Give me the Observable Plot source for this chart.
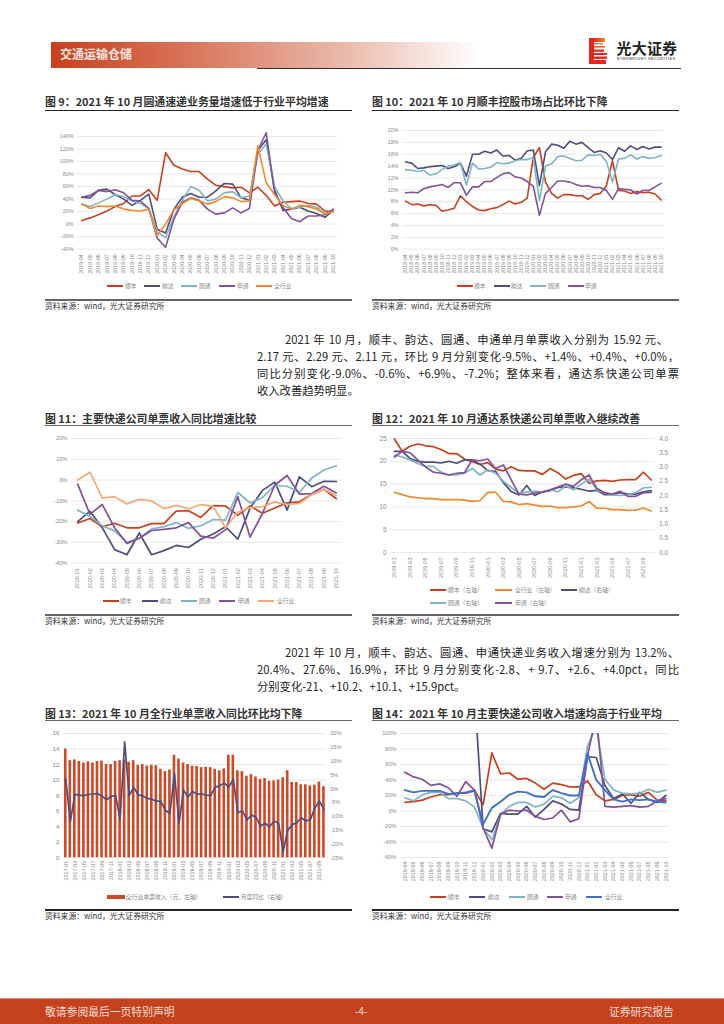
<!DOCTYPE html>
<html>
<head>
<meta charset="utf-8">
<script src="https://cdn.jsdelivr.net/npm/d3@7"></script>
<script src="https://cdn.jsdelivr.net/npm/@observablehq/plot@0.6"></script>
<style>
html,body{margin:0;padding:0;background:#fff;}
#page{position:relative;width:724px;height:1024px;overflow:hidden;font-family:"Noto Sans CJK SC","Noto Sans",sans-serif;color:#222;}
#page>*{position:absolute;}
.t{white-space:nowrap;transform:translateY(-50%);line-height:1;}
.ttl{font-weight:700;font-size:10.9px;color:#333;}
.src{font-size:7.8px;color:#333;}
.lg{font-size:5.8px;color:#888;}
.para{font-size:11.3px;color:#222;white-space:nowrap;line-height:1;text-align:justify;text-align-last:justify;transform:translateY(-50%);}
svg{overflow:visible;}
</style>
</head>
<body>
<div id="page"></div>
<script>
// ---------- category labels
function months(sy, sm, n){const o=[];let y=sy,m=sm;for(let i=0;i<n;i++){o.push(y+"-"+String(m).padStart(2,"0"));m++;if(m>12){m=1;y++;}}return o;}
const cats9 = months(2019,4,31);
const cats10 = months(2018,4,43);
const cats11 = months(2020,1,22);
const cats12 = months(2019,1,34);
const cats13 = months(2017,1,58);
const cats14 = months(2019,4,31);

// ---------- 图 9
const sf9 = [6,10,15,21,28,33,45,45,55,38,114,94,88,84,84,72,62,60,58,59,50,59,46,29,35,36,37,33,32,21,20];
const yd9 = [43,42,54,56,47,40,30,38,48,-8,-14,24,43,49,43,43,53,65,64,42,38,118,135,55,22,24,27,21,17,11,22];
const yt9 = [32,28,34,40,47,44,37,33,25,-12,-22,12,38,60,54,37,40,50,52,42,45,112,128,60,37,25,27,30,27,17,20];
const st9 = [43,46,54,52,55,50,38,37,25,-22,-37,8,35,42,38,24,16,18,26,18,25,118,146,50,27,9,4,13,13,15,24];
const all9 = [32,25,29,28,29,24,22,21,24,-18,0,23,33,41,37,32,36,44,42,36,37,125,66,47,30,24,30,28,24,16,21];

// ---------- 图 10
const sf10 = [8.1,7.5,7.6,7.3,7.5,7.4,6.4,6.6,6.9,9.0,8.0,7.2,6.6,6.5,6.8,7.0,7.5,8.1,7.6,7.9,8.6,15.5,17.1,11.3,9.4,8.6,9.2,9.2,9.0,9.0,8.4,9.2,9.4,10.7,14.9,9.9,9.8,9.4,9.7,9.5,9.6,9.3,8.3];
const yd10 = [14.7,14.5,13.6,13.7,13.9,14.0,14.1,13.6,13.9,14.5,12.3,16.0,16.0,16.5,16.2,16.7,15.7,15.8,15.0,15.3,16.6,16.7,10.7,16.4,17.7,17.5,17.0,18.2,17.7,18.0,17.1,16.3,16.6,16.2,15.1,17.1,16.5,17.4,16.8,17.3,16.9,17.2,17.2];
const yt10 = [13.4,13.3,13.1,13.3,12.5,12.7,13.4,14.0,14.2,14.6,10.8,14.5,13.5,13.6,13.8,14.6,14.4,14.5,14.9,15.1,15.1,15.4,8.2,14.0,14.4,15.6,15.7,15.3,14.9,15.0,15.9,15.8,16.0,14.8,11.3,15.2,15.3,15.9,15.2,15.6,15.3,15.4,15.8];
const st10 = [9.5,9.6,9.5,10.2,10.5,10.7,10.9,10.4,11.2,11.2,9.1,10.5,10.5,11.4,11.4,12.1,12.7,12.9,12.2,12.0,11.4,10.6,5.7,9.4,10.4,11.5,11.5,11.3,10.9,10.6,10.7,10.4,10.4,9.9,8.4,10.2,10.1,10.0,9.3,9.9,9.9,10.5,11.1];

// ---------- 图 11
const sf11 = [-20.7,-18.5,-22.5,-20.8,-23,-23,-21,-21,-15,-14.8,-18,-12.3,-12.5,-17,-12.5,-16,-13.5,-11,-10.5,-7,-4.5,-9];
const yd11 = [-20,-15,-23,-33.5,-36,-25.5,-36,-34,-31.5,-32.5,-28.5,-26,-22.5,-28.5,-13.5,-5,-1,-14.5,1.5,-3.2,-0.6,-0.7];
const yt11 = [-14.5,-17.5,-22,-24.5,-30,-28,-23.5,-22.5,-20.5,-23.3,-22,-19,-19.3,-6,-11,-8.5,-2.5,-3,-6,1,4.8,6.9];
const st11 = [-2,-16.5,-11.8,-23,-30.5,-28,-24.3,-23.8,-23,-20.5,-27,-28,-24,-8,-27.5,-16,-2.5,2.2,-6.8,-6.5,-3,-6.2];
const all11 = [0,3.8,-8.7,-8,-11.5,-9.3,-10,-13.8,-12.2,-13.8,-11.8,-12.6,-23,-15.5,-13.3,-12.8,-10.5,-11.8,-11.3,-7,-4.5,-7.5];

// ---------- 图 12
const sf12 = [24.9,22.2,23.3,23.8,23.4,23.2,22.6,21.7,21.7,20.5,19.9,19.3,19.7,18.3,17.9,18.8,18.0,17.9,17.9,17.1,18.4,17.5,16.1,16.9,17.3,15.2,15.7,15.8,15.6,15.9,16.0,16.0,17.6,15.9];
const all12 = [13.2,12.7,12.2,12.0,11.8,11.8,11.6,11.6,11.6,11.5,11.2,11.4,13.2,13.2,11.2,11.1,10.5,10.7,10.4,10.1,10.2,9.85,9.85,10.0,10.2,11.2,9.7,9.7,9.4,9.4,9.25,9.3,9.75,9.1];
const yd12 = [3.55,3.55,3.3,3.2,3.17,3.17,3.14,3.2,3.13,3.25,3.25,3.1,2.87,2.85,2.45,2.14,2.02,2.35,2.0,2.12,2.17,2.28,2.3,2.27,2.22,2.15,2.18,2.03,2.03,2.1,2.05,2.05,2.13,2.17];
const yt12 = [3.42,3.35,3.25,3.12,3.02,3.02,2.82,2.72,2.72,2.78,2.95,2.72,2.9,2.78,2.5,2.28,2.08,2.12,2.15,2.12,2.2,2.13,2.33,2.2,2.4,2.58,2.2,2.1,2.02,2.0,2.03,2.1,2.27,2.29];
const st12 = [3.35,3.55,3.5,3.25,3.0,2.82,2.78,2.72,2.78,2.8,3.25,3.22,3.28,2.95,3.07,2.55,2.05,2.02,2.08,2.12,2.2,2.3,2.4,2.32,2.55,2.72,2.25,2.1,2.05,2.15,1.97,1.97,2.1,2.11];

// ---------- 图 13
const rev13 = [14.0,12.5,12.6,12.4,12.2,12.35,12.2,12.4,12.45,12.0,12.0,12.4,12.5,12.6,12.3,12.5,11.9,12.0,11.8,11.9,11.85,11.4,11.1,11.3,13.2,12.7,12.2,12.0,11.8,11.75,11.6,11.65,11.6,11.4,11.2,11.45,13.2,13.2,11.2,11.1,10.5,10.7,10.4,10.1,10.2,9.85,9.9,10.0,10.3,11.2,9.7,9.7,9.4,9.4,9.25,9.35,9.75,9.15];
const yoy13 = [3.5,-12,-2,-2.3,-2.5,-2,-2,-1.7,-2.7,-4,-2.8,-2.4,-11,17,-2.5,0.5,-2.2,-2.6,-3.5,-3.8,-4.5,-4.6,-7.8,-9,5.5,-12.5,-0.5,-3,-1,-2,-1.8,-2.3,-2.4,0.5,1.2,2,0.6,3.5,-8.7,-8,-11.3,-9.5,-10.3,-13.5,-12.5,-13.8,-11.7,-12.5,-22.8,-15,-13,-12.3,-10.5,-11.7,-11.2,-7,-4.5,-7.5];

// ---------- 图 14
const sf14 = [11,12,14,18,21,21,23,24,27,8,75,48,49,41,42,36,28,36,34,31,31,39,21,13,15,20,21,19,24,14,13];
const yd14 = [null,null,null,null,null,null,null,null,155,-23,-27,-3,-4,-4,6,-8,2,13,9,2,1,70,69,33,16,22,10,24,15,11,20];
const yt14 = [17,13,21,24,24,16,16,13,5,-22,-37,-5,6,11,11,5,9,19,17,10,17,84,108,41,27,23,22,23,28,24,27];
const st14 = [50,44,41,33,35,30,19,38,27,-22,-48,-4,1,0,1,-7,-11,-9,1,-14,-10,71,125,6,5,6,7,5,6,13,16];
const all14 = [27,24,26,26,26,22,23,23,26,-17,4,12,21,25,24,19,18,27,23,20,20,74,40,27,15,12,15,14,15,12,11];

// ---------- ticks
const pct = d => d + "%";
const ticks9 = [-40,-20,0,20,40,60,80,100,120,140];
const ticks10 = [0,2,4,6,8,10,12,14,16,18,20];
const ticks11 = [-40,-30,-20,-10,0,10,20];
const ticks12L = [0,5,10,15,20,25];
const ticks12R = [0,0.5,1,1.5,2,2.5,3,3.5,4];
const ticks13L = [0,2,4,6,8,10,12,14,16];
const ticks13R = [-25,-20,-15,-10,-5,0,5,10,15,20];
const ticks14 = [-60,-40,-20,0,20,40,60,80,100];

// ---------- colours
const RED="#c8401f", NAVY="#4e4e7e", TEAL="#7fb3c6", PURPLE="#83519b", ORANGE="#ef8a2e", PEACH="#f4ab7c", BLUE="#3d6fcb";

const page = document.getElementById("page");
function el(tag, cls, css, txt){
  const e=document.createElement(tag);
  if(cls) e.className=cls;
  Object.assign(e.style,css||{});
  if(txt!=null) e.textContent=txt;
  page.appendChild(e);
  return e;
}
function text(x,y,s,cls,css){return el("div","t "+(cls||""),Object.assign({left:x+"px",top:y+"px"},css||{}),s);}
function rule(x0,x1,y,h,c){return el("div","",{left:x0+"px",top:(y-h/2)+"px",width:(x1-x0)+"px",height:h+"px",background:c});}

const M = {l:34,r:34,t:6,b:34};
function chart(o){
  const {x0,x1,yTop,yBot,cats,domain,gridTicks,series=[],bars,tickEvery=1,tickOffset=0,
         side="left",axisTicks,fmt,fs=5.4,xfs=5.3,xPad=5,barPad=0.42,clip=false,drawX=true} = o;
  const rows = cats.map((c,i)=>({c,i}));
  const marks=[];
  if(gridTicks) marks.push(Plot.gridY(gridTicks,{stroke:"#e9e9e9",strokeOpacity:1,strokeWidth:1}));
  if(bars) marks.push(Plot.barY(rows,{x:"c",y:d=>bars.values[d.i],fill:bars.color}));
  if(drawX) marks.push(Plot.axisX({
    ticks:cats.filter((c,i)=>i%tickEvery===tickOffset),tickSize:0,tickRotate:-90,tickPadding:xPad,
    fontSize:xfs,fill:"#8a8a8a",label:null,anchor:"bottom",fontFamily:"Liberation Sans"}));
  else marks.push(Plot.axisX({ticks:[],tickSize:0,label:null}));
  marks.push(Plot.axisY({ticks:axisTicks,tickFormat:fmt||(d=>d),tickSize:0,tickPadding:o.yPad??4,
    fontSize:fs,fill:"#8a8a8a",label:null,anchor:side,fontFamily:"Liberation Sans"}));
  for(const s of series){
    marks.push(Plot.line(rows,{x:"c",y:d=>s.values[d.i],stroke:s.color,strokeWidth:s.w||1.6,
      curve:"linear",clip,strokeLinejoin:"round",strokeLinecap:"round"}));
  }
  const plot = Plot.plot({
    width:x1-x0+M.l+M.r, height:yBot-yTop+M.t+M.b,
    marginLeft:M.l, marginRight:M.r, marginTop:M.t, marginBottom:M.b,
    style:{background:"transparent",overflow:"visible",fontFamily:"Liberation Sans"},
    x:{type:"band",domain:cats,paddingInner:barPad,paddingOuter:barPad/2,round:false,label:null},
    y:{type:"linear",domain,range:[yBot-yTop+M.t,M.t],label:null},
    marks
  });
  Object.assign(plot.style,{position:"absolute",left:(x0-M.l)+"px",top:(yTop-M.t)+"px"});
  page.appendChild(plot);
}
function legendLine(x,y,len,color,label,tx){
  rule(x,x+len,y,1.7,color);
  text(tx,y,label,"lg");
}

// ---------- header
el("div","",{left:"51px",top:"42px",width:"429px",height:"26px",background:"linear-gradient(90deg,#c8401f 0%,#d97a60 35%,#ebbdaf 70%,#ffffff 100%)"});
text(60,54,"交通运输仓储","",{fontSize:"12px",fontWeight:700,color:"#fbe8e0"});
rule(257,681,68.5,1.2,"#333");
const logo=el("div","",{left:"589px",top:"38px",width:"18px",height:"26px"});
logo.innerHTML=`<svg width="18" height="26" viewBox="0 0 18 26" style="display:block">
<defs><linearGradient id="lg1" x1="0" x2="1" y1="0" y2="0"><stop offset="0" stop-color="#e5281f"/><stop offset="1" stop-color="#f28a2c"/></linearGradient></defs>
<rect x="0" y="0" width="5" height="26" fill="#e5281f"/>
<rect x="5" y="0" width="11" height="4" fill="url(#lg1)"/>
<rect x="5" y="5" width="9" height="1.4" fill="#f07a3a"/><rect x="5" y="8" width="11" height="1.6" fill="#ee5a34"/>
<rect x="5" y="11.5" width="10" height="2.4" fill="#e8382a"/><rect x="5" y="15" width="13" height="2" fill="#e5281f"/>
<rect x="5" y="18.5" width="13" height="2.4" fill="#e5281f"/><rect x="5" y="22" width="12" height="4" fill="#e5281f"/></svg>`;
text(616.5,47,"光大证券","",{fontSize:"15px",fontWeight:700,color:"#222",letterSpacing:"0.2px"});
text(617,59.3,"EVERBRIGHT SECURITIES","",{fontSize:"3.9px",color:"#333",letterSpacing:"0.42px",fontFamily:"Liberation Sans"});

// ---------- titles, rules, sources
const L=45,LE=352,R=372,RE=679;
function block(x,xe,ty,ry,sy,title,rc,src){
  text(x,ty,title,"ttl");
  rule(x,xe,ry,1,rc);
  rule(x,xe,sy,1.2,src);
  text(x,sy+6.3,"资料来源：wind，光大证券研究所","src");
}
block(L,LE,100.7,110.3,300,"图 9：2021 年 10 月圆通速递业务量增速低于行业平均增速","#222","#666");
block(R,RE,100.7,110.3,300,"图 10：2021 年 10 月顺丰控股市场占比环比下降","#222","#666");
block(L,LE,418,425.7,615,"图 11：主要快递公司单票收入同比增速比较","#666","#666");
block(R,RE,418,425.7,615,"图 12：2021 年 10 月通达系快递公司单票收入继续改善","#666","#666");
block(L,LE,712.7,720.7,910,"图 13：2021 年 10 月全行业单票收入同比环比均下降","#666","#222");
block(R,RE,712.7,720.7,910,"图 14：2021 年 10 月主要快递公司收入增速均高于行业平均","#666","#222");

// ---------- paragraphs
function para(x,xe,y,s,just=true){
  el("div","para",{left:x+"px",top:y+"px",width:(xe-x)+"px",textAlignLast:just?"justify":"left"},s);
}
para(285,668,340,"2021 年 10 月，顺丰、韵达、圆通、申通单月单票收入分别为 15.92 元、");
para(257,679,357,"2.17 元、2.29 元、2.11 元，环比 9 月分别变化-9.5%、+1.4%、+0.4%、+0.0%，");
para(257,679,374,"同比分别变化-9.0%、-0.6%、+6.9%、-7.2%；整体来看，通达系快递公司单票");
para(257,679,391,"收入改善趋势明显。",false);
para(285,679,652.7,"2021 年 10 月，顺丰、韵达、圆通、申通快递业务收入增速分别为 13.2%、");
para(257,679,669.5,"20.4%、27.6%、16.9%，环比 9 月分别变化-2.8、+ 9.7、+2.6、+4.0pct，同比");
para(257,679,686.7,"分别变化-21、+10.2、+10.1、+15.9pct。",false);

// ---------- 图 9
chart({x0:77,x1:337,yTop:136,yBot:248.7,cats:cats9,domain:[-40,140],gridTicks:ticks9,axisTicks:ticks9,fmt:pct,
  series:[{values:sf9,color:RED},{values:yd9,color:NAVY},{values:yt9,color:TEAL},{values:st9,color:PURPLE},{values:all9,color:ORANGE}]});
[[107,RED,"顺丰",125],[144,NAVY,"韵达",162],[181,TEAL,"圆通",199],[219,PURPLE,"申通",237],[256,ORANGE,"全行业",274]]
  .forEach(([x,c,l,t])=>legendLine(x,286,16,c,l,t));

// ---------- 图 10
chart({x0:402,x1:663.7,yTop:130,yBot:248.7,cats:cats10,domain:[0,20],gridTicks:ticks10,axisTicks:ticks10,fmt:pct,
  series:[{values:sf10,color:RED},{values:yd10,color:NAVY},{values:yt10,color:TEAL},{values:st10,color:PURPLE}]});
[[457,RED,"顺丰",474],[494,NAVY,"韵达",511],[530,TEAL,"圆通",548],[568,PURPLE,"申通",585]]
  .forEach(([x,c,l,t])=>legendLine(x,286,16,c,l,t));

// ---------- 图 11
chart({x0:70.7,x1:341.7,yTop:437.7,yBot:562.3,cats:cats11,domain:[-40,20],gridTicks:ticks11,axisTicks:ticks11,fmt:pct,fs:5.8,xfs:5.6,
  series:[{values:sf11,color:RED,w:1.7},{values:yd11,color:NAVY,w:1.7},{values:yt11,color:TEAL,w:1.7},{values:st11,color:PURPLE,w:1.7},{values:all11,color:PEACH,w:1.7}]});
[[103,RED,"顺丰",120],[142,NAVY,"韵达",160],[181,TEAL,"圆通",199],[219,PURPLE,"申通",238],[258,PEACH,"全行业",277]]
  .forEach(([x,c,l,t])=>legendLine(x,601,16,c,l,t));

// ---------- 图 12 (left axis, then right axis laid over it)
chart({x0:390,x1:654.7,yTop:437.7,yBot:551.7,cats:cats12,domain:[0,25],gridTicks:ticks12L,axisTicks:ticks12L,fs:6.4,xfs:5.6,tickEvery:2,
  series:[{values:sf12,color:RED,w:1.7},{values:all12,color:ORANGE,w:1.7}]});
chart({x0:390,x1:654.7,yTop:437.7,yBot:551.7,cats:cats12,domain:[0,4],axisTicks:ticks12R,fmt:d=>d.toFixed(1),side:"right",fs:6.4,drawX:false,
  series:[{values:yd12,color:NAVY,w:1.7},{values:yt12,color:TEAL,w:1.7},{values:st12,color:PURPLE,w:1.7}]});
legendLine(430,590,16,RED,"顺丰（左轴）",448);
legendLine(495,590,17,ORANGE,"全行业（左轴）",515);
legendLine(561,590,16,NAVY,"韵达（右轴）",579);
legendLine(430,602.7,16,TEAL,"圆通（右轴）",448);
legendLine(495,602.7,17,PURPLE,"申通（右轴）",515);

// ---------- 图 13 (bars on left axis, line on right axis)
chart({x0:63.3,x1:326,yTop:732.7,yBot:857,cats:cats13,domain:[0,16],gridTicks:ticks13L,axisTicks:ticks13L,fs:6.2,xfs:5.4,tickEvery:2,xPad:3,
  bars:{values:rev13,color:"#cc4a28"},barPad:0.42});
chart({x0:63.3,x1:326,yTop:732.7,yBot:857,cats:cats13,domain:[-25,20],axisTicks:ticks13R,fmt:pct,side:"right",fs:5.6,drawX:false,
  barPad:0.42,series:[{values:yoy13,color:NAVY,w:1.7}]});
el("div","",{left:"107.3px",top:"894.7px",width:"17.4px",height:"4px",background:"#cc4a28"});
text(126,896.7,"全行业单票收入（元，左轴）","lg");
legendLine(222.7,896.7,16,NAVY,"月度同比（右轴）",240.7);

// ---------- 图 14
chart({x0:400.3,x1:670,yTop:732.7,yBot:856.7,cats:cats14,domain:[-60,100],gridTicks:ticks14,axisTicks:ticks14,fmt:pct,fs:5.6,xfs:5.4,xPad:4,clip:true,
  series:[{values:sf14,color:RED,w:1.7},{values:yd14,color:NAVY,w:1.7},{values:yt14,color:TEAL,w:1.7},{values:st14,color:PURPLE,w:1.7},{values:all14,color:BLUE,w:1.9}]});
[[430,RED,"顺丰",448],[469,NAVY,"韵达",488],[509,TEAL,"圆通",527],[547,PURPLE,"申通",565],[586,BLUE,"全行业",605]]
  .forEach(([x,c,l,t])=>legendLine(x,896.7,16,c,l,t));

// ---------- footer
el("div","",{left:"0",top:"998px",width:"724px",height:"26px",background:"#c5421f",borderTop:"1px solid #e58d75",boxSizing:"border-box"});
text(45,1010.7,"敬请参阅最后一页特别声明","",{fontSize:"10.8px",color:"#f5ded5"});
text(355,1010.7,"-4-","",{fontSize:"10px",color:"#f5ded5"});
text(609,1010.7,"证券研究报告","",{fontSize:"10.8px",color:"#f5ded5"});
</script>
</body>
</html>
